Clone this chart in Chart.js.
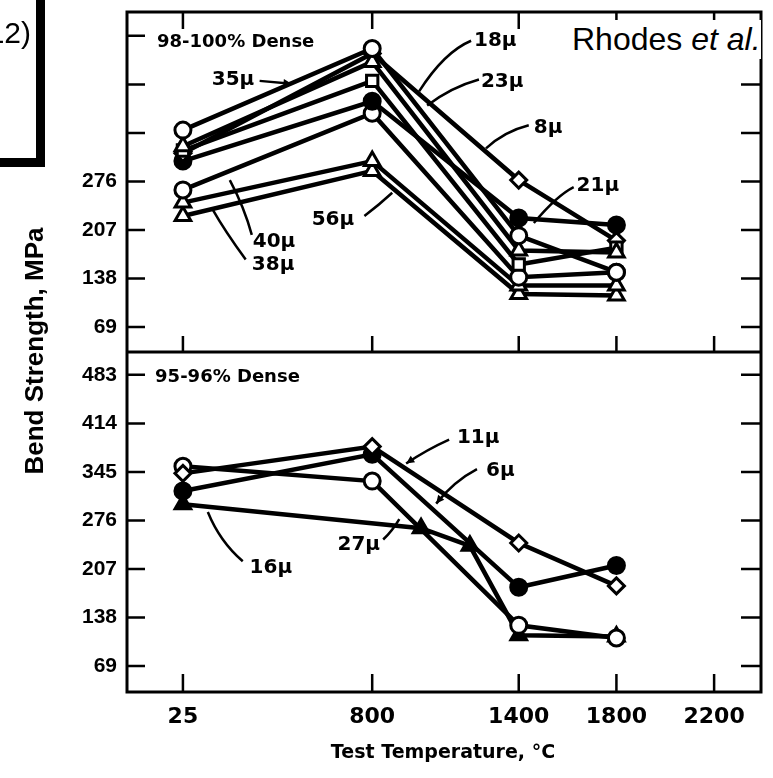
<!DOCTYPE html>
<html>
<head>
<meta charset="utf-8">
<script src="https://cdn.jsdelivr.net/npm/chart.js@4.4.1/dist/chart.umd.min.js"></script>
<style>
  body { margin: 0; background: #fff; }
  #wrap { position: relative; width: 773px; height: 778px; overflow: hidden; background: #fff; }
  #bendChart { position: absolute; left: 0; top: 0; }
  .txt { position: absolute; color: #000; white-space: nowrap; }
  #eqBox { position: absolute; left: -10px; top: -10px; width: 37px; height: 159px; border: 9px solid #000; }
  #eqNum { left: -27px; top: 18px; width: 58px; text-align: right; font: 30px/30px "Liberation Sans", Arial, sans-serif; }
  #yTitle { left: 34px; top: 351px; transform: translate(-50%, -50%) rotate(-90deg); font: bold 26px "Liberation Sans", Arial, sans-serif; }
  #credit { left: 566px; top: 20px; padding: 3px 0 4px 6px; width: 189px; background: #fff; font: 32px/32px "Liberation Sans", Arial, sans-serif; }
  #xTitle { left: 443px; top: 751px; transform: translate(-50%, -50%); font: bold 19px "DejaVu Sans", sans-serif; }
</style>
</head>
<body>
<div id="wrap">
  <canvas id="bendChart" width="773" height="778"></canvas>
  <div id="eqBox"></div>
  <div class="txt" id="eqNum">(12)</div>
  <div class="txt" id="yTitle">Bend Strength, MPa</div>
  <div class="txt" id="credit">Rhodes <i>et al.</i></div>
  <div class="txt" id="xTitle">Test Temperature, °C</div>
</div>
<script>
// tick values
const xTicks = [25, 800, 1400, 1800, 2200];
const yTicks = [69, 138, 207, 276, 345, 414, 483];

// test temperatures, °C
const temps = [25, 800, 1400, 1800];
const temps16 = [25, 1000, 1200, 1400, 1800];

// 98-100% dense, bend strength in MPa
const dense35 = [349, 465, 199, 147];
const dense18 = [326, 446, 178, 175];
const dense23 = [320, 419, 158, 182];
const dense8 = [316, 458, 278, 192];
const dense21 = [305, 390, 224, 214];
const dense40 = [264, 373, 140, 147];
const dense56 = [246, 305, 128, 128];
const dense38 = [227, 291, 116, 114];

// 95-96% dense, bend strength in MPa
const porous11 = [343, 381, 244, 183];
const porous6 = [318, 370, 181, 212];
const porous27 = [353, 332, 127, 109];
const porous16 = [299, 265, 240, 113, 111];

function series(label, xs, ys, axis, style, filled) {
    return {
        label: label,
        data: xs.map((x, i) => ({ x: x, y: ys[i] })),
        yAxisID: axis,
        showLine: true,
        borderColor: '#000',
        borderWidth: 4.5,
        pointStyle: style,
        pointRadius: style === 'triangle' ? 9 : 8,
        pointBorderWidth: 3,
        pointBorderColor: '#000',
        pointBackgroundColor: filled ? '#000' : '#fff'
    };
}

const datasets = [
    series('35μ', temps, dense35, 'yUpper', 'circle', false),
    series('18μ', temps, dense18, 'yUpper', 'triangle', false),
    series('23μ', temps, dense23, 'yUpper', 'rect', false),
    series('8μ', temps, dense8, 'yUpper', 'rectRot', false),
    series('21μ', temps, dense21, 'yUpper', 'circle', true),
    series('40μ', temps, dense40, 'yUpper', 'circle', false),
    series('56μ', temps, dense56, 'yUpper', 'triangle', false),
    series('38μ', temps, dense38, 'yUpper', 'triangle', false),
    series('11μ', temps, porous11, 'yLower', 'rectRot', false),
    series('6μ', temps, porous6, 'yLower', 'circle', true),
    series('27μ', temps, porous27, 'yLower', 'circle', false),
    series('16μ', temps16, porous16, 'yLower', 'triangle', true)
];

// labels and leader lines, in data units [text, x, y]
const upperLabels = [
    ['98-100% Dense', -81, 474.5],
    ['35μ', 143, 421], ['18μ', 1217, 476], ['23μ', 1245, 418], ['8μ', 1462, 352],
    ['21μ', 1637, 270], ['40μ', 311, 190], ['38μ', 307, 158], ['56μ', 552, 222]
];
const lowerLabels = [
    ['95-96% Dense', -89, 479],
    ['11μ', 1147, 394], ['6μ', 1266, 346], ['27μ', 658, 242], ['16μ', 298, 209]
];
const upperLeaders = [
    { pts: [[339, 419], [470, 415]], arrow: true },
    { pts: [[1205, 476], [1095, 460], [992, 404]] },
    { pts: [[1237, 421], [1123, 410], [1025, 384]] },
    { pts: [[1441, 356], [1339, 347], [1266, 323]] },
    { pts: [[1625, 268], [1556, 256], [1462, 217]] },
    { pts: [[307, 200], [278, 238], [217, 278]] },
    { pts: [[282, 165], [196, 206], [147, 236]] },
    { pts: [[768, 227], [829, 243], [882, 260]] }
];
const lowerLeaders = [
    { pts: [[1115, 391], [1025, 377], [939, 357]], arrow: true },
    { pts: [[1229, 349], [1135, 332], [1062, 300]], arrow: true },
    { pts: [[845, 249], [882, 261], [911, 278]] },
    { pts: [[270, 218], [176, 246], [127, 288]] }
];

const framePlugin = {
    id: 'frame',
    afterDatasetsDraw(chart) {
        const ctx = chart.ctx;
        const a = chart.chartArea;
        const sx = chart.scales.x;
        const up = chart.scales.yUpper;
        const lo = chart.scales.yLower;
        ctx.save();
        ctx.strokeStyle = '#000';
        ctx.lineWidth = 3;
        ctx.strokeRect(a.left, a.top, a.right - a.left, a.bottom - a.top);
        ctx.beginPath();
        ctx.moveTo(a.left, up.bottom);
        ctx.lineTo(a.right, up.bottom);
        ctx.stroke();
        ctx.lineWidth = 2.5;
        ctx.beginPath();
        [up, lo].forEach(s => {
            yTicks.forEach(v => {
                const py = s.getPixelForValue(v);
                ctx.moveTo(a.left, py); ctx.lineTo(a.left + 18, py);
                ctx.moveTo(a.right, py); ctx.lineTo(a.right - 20, py);
            });
        });
        xTicks.forEach(v => {
            const px = sx.getPixelForValue(v);
            ctx.moveTo(px, a.top); ctx.lineTo(px, a.top + 17);
            ctx.moveTo(px, up.bottom); ctx.lineTo(px, up.bottom - 16);
            ctx.moveTo(px, a.bottom); ctx.lineTo(px, a.bottom - 18);
        });
        ctx.stroke();

        const drawNotes = (labels, leaders, s) => {
            labels.forEach(([t, x, y], i) => {
                ctx.font = i === 0 ? 'bold 18px "DejaVu Sans"' : 'bold 20px "DejaVu Sans"';
                ctx.fillStyle = '#000';
                ctx.textAlign = 'left';
                ctx.textBaseline = 'middle';
                ctx.fillText(t, sx.getPixelForValue(x), s.getPixelForValue(y));
            });
            leaders.forEach(l => {
                const p = l.pts.map(([x, y]) => [sx.getPixelForValue(x), s.getPixelForValue(y)]);
                ctx.lineWidth = 2.5;
                ctx.beginPath();
                ctx.moveTo(p[0][0], p[0][1]);
                if (p.length === 3) {
                    ctx.quadraticCurveTo(p[1][0], p[1][1], p[2][0], p[2][1]);
                } else {
                    ctx.lineTo(p[1][0], p[1][1]);
                }
                ctx.stroke();
                if (l.arrow) {
                    const e = p[p.length - 1], b = p[p.length - 2];
                    const ang = Math.atan2(e[1] - b[1], e[0] - b[0]);
                    ctx.beginPath();
                    ctx.moveTo(e[0], e[1]);
                    ctx.lineTo(e[0] - 9 * Math.cos(ang - 0.45), e[1] - 9 * Math.sin(ang - 0.45));
                    ctx.lineTo(e[0] - 9 * Math.cos(ang + 0.45), e[1] - 9 * Math.sin(ang + 0.45));
                    ctx.closePath();
                    ctx.fill();
                }
            });
        };
        drawNotes(upperLabels, upperLeaders, up);
        drawNotes(lowerLabels, lowerLeaders, lo);
        ctx.restore();
    }
};

const yFont = { family: '"Liberation Sans", Arial', weight: 'bold', size: 21 };

// keep the plot frame fixed: no extra room for overhanging tick labels
function fixY(s) {
    s.width = 127;
    s.paddingTop = 0;
    s.paddingBottom = 0;
}

new Chart(document.getElementById('bendChart'), {
    type: 'scatter',
    data: { datasets: datasets },
    options: {
        responsive: false,
        animation: false,
        events: [],
        layout: { padding: { top: 7, right: 10, left: 0, bottom: 0 } },
        plugins: { legend: { display: false }, tooltip: { enabled: false } },
        scales: {
            x: {
                type: 'linear', min: -204, max: 2392,
                afterBuildTicks: s => { s.ticks = xTicks.map(v => ({ value: v })); },
                afterFit: s => { s.height = 86; s.paddingLeft = 0; s.paddingRight = 0; },
                grid: { display: false, drawTicks: false },
                border: { display: false },
                ticks: { color: '#000', padding: 12, autoSkip: false, maxRotation: 0,
                         font: { family: '"DejaVu Sans"', weight: 'bold', size: 22 },
                         callback: v => String(v) }
            },
            yUpper: {
                type: 'linear', position: 'left', stack: 'panels', stackWeight: 1, weight: 1,
                min: 33.6, max: 516.9,
                afterBuildTicks: s => { s.ticks = yTicks.map(v => ({ value: v })); },
                afterFit: fixY,
                grid: { display: false, drawTicks: false },
                border: { display: false },
                ticks: { color: '#000', padding: 10, autoSkip: false, font: yFont,
                         callback: v => (v <= 276 ? String(v) : '') }
            },
            yLower: {
                type: 'linear', position: 'left', stack: 'panels', stackWeight: 1, weight: 0,
                min: 32.2, max: 515.5,
                afterBuildTicks: s => { s.ticks = yTicks.map(v => ({ value: v })); },
                afterFit: fixY,
                grid: { display: false, drawTicks: false },
                border: { display: false },
                ticks: { color: '#000', padding: 10, autoSkip: false, font: yFont,
                         callback: v => String(v) }
            }
        }
    },
    plugins: [framePlugin]
});
</script>
</body>
</html>
